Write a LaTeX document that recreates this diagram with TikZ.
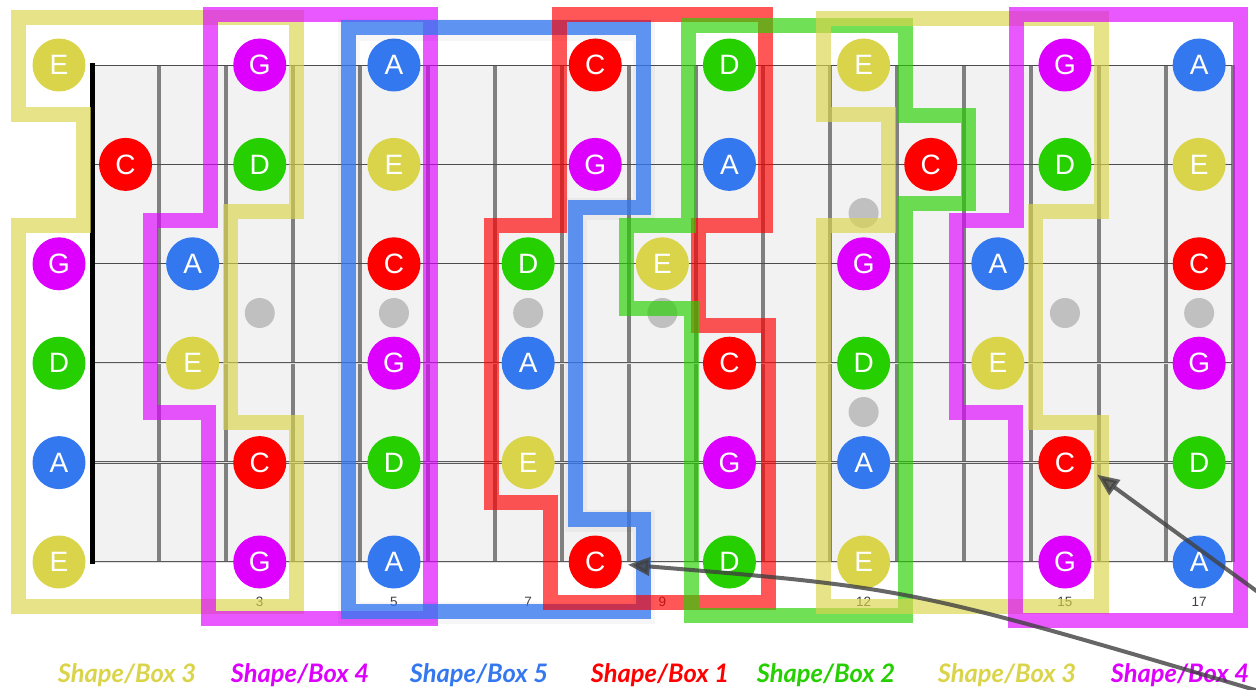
\documentclass[tikz,border=0pt]{standalone}
\usepackage{fontspec}
\setmainfont{Liberation Sans}
\newfontfamily\legendfont{Lato}
\usepackage{tikz}
\usetikzlibrary{arrows.meta}

\definecolor{colC}{RGB}{255,0,0}
\definecolor{colD}{RGB}{38,208,0}
\definecolor{colE}{RGB}{218,212,74}
\definecolor{colG}{RGB}{221,0,255}
\definecolor{colA}{RGB}{52,120,240}
\definecolor{boardgray}{RGB}{242,242,242}
\definecolor{fretgray}{RGB}{128,128,128}
\definecolor{dotgray}{RGB}{192,192,192}

\tikzset{
  note/.style={circle,minimum size=53pt,inner sep=0pt,text=white,
    font=\fontsize{28}{28}\selectfont},
  fretline/.style={draw=fretgray,line width=4pt},
  plainstring/.style={draw=black!70},
  woundstring/.style={draw=black!65,double=black!12,double distance=0.9pt,line width=0.8pt},
  inlay/.style={circle,fill=dotgray,minimum size=30pt,inner sep=0pt},
  fretnum/.style={text=black!75,font=\fontsize{13.5}{13.5}\selectfont},
  shapeline/.style={line width=15pt,opacity=0.66,line join=miter},
  legend/.style={font=\legendfont\bfseries\itshape\fontsize{25.5}{25.5}\selectfont},
  pointer/.style={draw=black!75,line width=4pt,opacity=0.8,
    -{Triangle[length=22pt,width=18pt]}}
}

\begin{document}
\begin{tikzpicture}[x=1pt,y=-1pt]
  \useasboundingbox (0,0) rectangle (1256,690);

  \fill[boardgray] (92,65) rectangle (1232,562);
  \foreach \f in {1,...,17}
    \draw[fretline] ({92+67.1*\f},65) -- ({92+67.1*\f},562);
  \foreach \s/\w in {1/0.8,2/1.0,3/1.2}
    \draw[plainstring,line width=\w pt] (90,{65+99.4*(\s-1)}) -- (1232,{65+99.4*(\s-1)});
  \foreach \s in {4,5,6}
    \draw[woundstring] (90,{65+99.4*(\s-1)}) -- (1232,{65+99.4*(\s-1)});
  \draw[line width=5pt] (92.5,63) -- (92.5,564);

  \foreach \f in {3,5,7,9,15,17}
    \node[inlay] (dot\f) at ({92+67.1*(\f-0.5)},313) {};
  \node[inlay] (dot12a) at (863.6,213) {};
  \node[inlay] (dot12b) at (863.6,412) {};

  \foreach \f in {3,5,7,9,12,15,17}
    \node[fretnum] (num\f) at ({92+67.1*(\f-0.5)},602) {\f};

  \foreach \s/\f/\n in {1/0/E,1/3/G,1/5/A,1/8/C,1/10/D,1/12/E,1/15/G,1/17/A,
                        2/1/C,2/3/D,2/5/E,2/8/G,2/10/A,2/13/C,2/15/D,2/17/E,
                        3/0/G,3/2/A,3/5/C,3/7/D,3/9/E,3/12/G,3/14/A,3/17/C,
                        4/0/D,4/2/E,4/5/G,4/7/A,4/10/C,4/12/D,4/14/E,4/17/G,
                        5/0/A,5/3/C,5/5/D,5/7/E,5/10/G,5/12/A,5/15/C,5/17/D,
                        6/0/E,6/3/G,6/5/A,6/8/C,6/10/D,6/12/E,6/15/G,6/17/A} {
    \pgfmathsetmacro{\xx}{\f==0 ? 59 : 92+67.1*(\f-0.5)}
    \node[note,fill=col\n] (n\s-\f) at (\xx,{65+99.4*(\s-1)}) {\n};
  }

  \draw[shapeline,draw=colE] (18,18) -- (296,18) -- (296,211) -- (230,211) -- (230,422) -- (296,422)
    -- (296,606) -- (18,606) -- (18,225) -- (83,225) -- (83,115) -- (18,115) -- cycle;
  \draw[shapeline,draw=colG] (210,15) -- (430,15) -- (430,618) -- (208,618) -- (208,412)
    -- (150,412) -- (150,220) -- (210,220) -- cycle;
  \draw[draw=black,line width=22pt,opacity=0.035,line join=miter] (349,30) -- (644,30) -- (644,209)
    -- (576,209) -- (576,521) -- (644,521) -- (644,613) -- (349,613) -- cycle;
  \draw[shapeline,draw=colA,opacity=0.78] (348,28) -- (643,28) -- (643,207) -- (575,207) -- (575,519)
    -- (643,519) -- (643,611) -- (348,611) -- cycle;
  \draw[shapeline,draw=colC] (559,15) -- (765,15) -- (765,225) -- (698,225) -- (698,325) -- (768,325)
    -- (768,602) -- (550,602) -- (550,502) -- (491,502) -- (491,225) -- (559,225) -- cycle;
  \draw[shapeline,draw=colD] (688,26) -- (905,26) -- (905,116) -- (968,116) -- (968,203) -- (905,203)
    -- (905,615) -- (691,615) -- (691,308) -- (626,308) -- (626,225) -- (688,225) -- cycle;
  \draw[shapeline,draw=colE] (823,19) -- (1101,19) -- (1101,211) -- (1035,211) -- (1035,422) -- (1101,422)
    -- (1101,606) -- (823,606) -- (823,225) -- (888,225) -- (888,115) -- (823,115) -- cycle;
  \draw[shapeline,draw=colG] (1016,15) -- (1240,15) -- (1240,620) -- (1015,620) -- (1015,412)
    -- (956,412) -- (956,220) -- (1016,220) -- cycle;

  \node[legend,text=colE] (box3a) at (127,675) {Shape/Box 3};
  \node[legend,text=colG] (box4a) at (300,675) {Shape/Box 4};
  \node[legend,text=colA] (box5) at (479,675) {Shape/Box 5};
  \node[legend,text=colC] (box1) at (660,675) {Shape/Box 1};
  \node[legend,text=colD] (box2) at (826,675) {Shape/Box 2};
  \node[legend,text=colE] (box3b) at (1007,675) {Shape/Box 3};
  \node[legend,text=colG] (box4b) at (1180,675) {Shape/Box 4};

  \coordinate (tail1) at (1262,692);
  \coordinate (tail2) at (1262,595);
  \draw[pointer,shorten >=6pt] (tail1) .. controls (910,588) .. (n6-8);
  \draw[pointer,shorten >=8pt] (tail2) -- (n5-15.-16);
\end{tikzpicture}
\end{document}
